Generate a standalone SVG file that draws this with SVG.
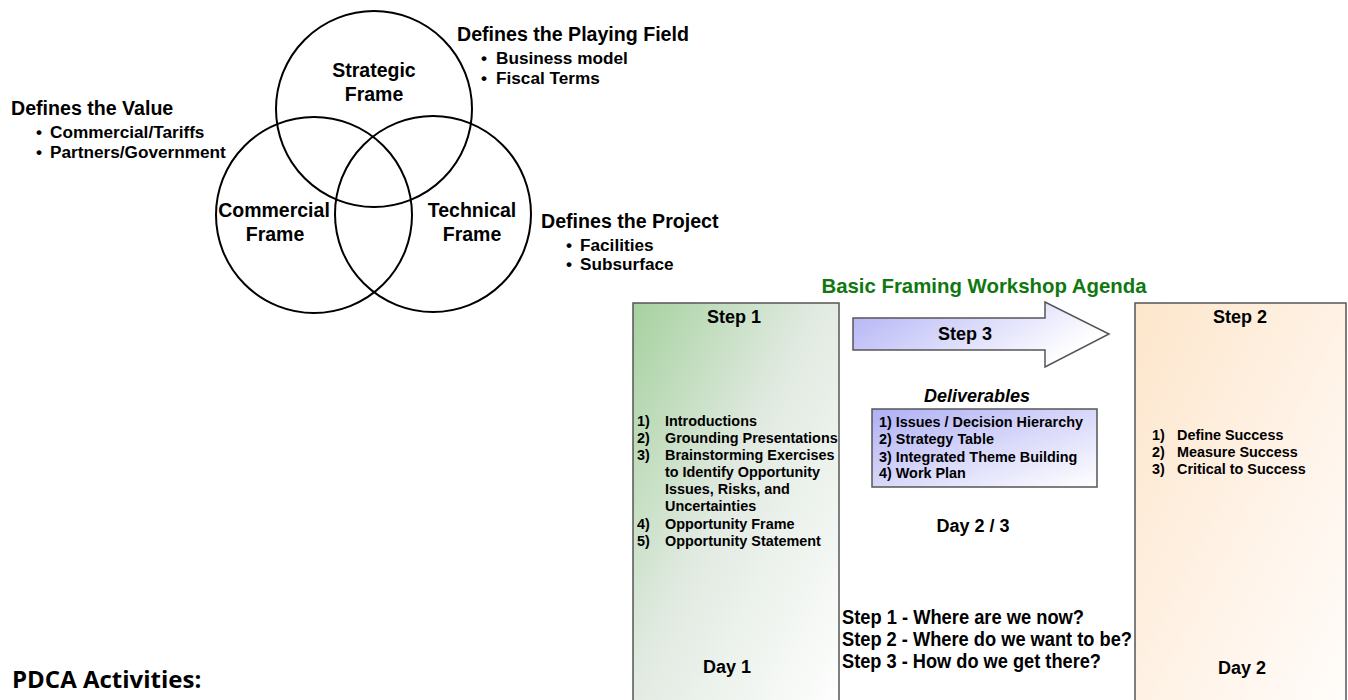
<svg xmlns="http://www.w3.org/2000/svg" width="1348" height="700" viewBox="0 0 1348 700">
  <defs>
    <linearGradient id="gStep1" x1="0" y1="0" x2="1" y2="1">
      <stop offset="0" stop-color="#a6d19f"/>
      <stop offset="0.45" stop-color="#e1eae1"/>
      <stop offset="1" stop-color="#ffffff"/>
    </linearGradient>
    <linearGradient id="gStep2" x1="0" y1="0" x2="1" y2="1">
      <stop offset="0" stop-color="#fde6cb"/>
      <stop offset="0.6" stop-color="#fff4ea"/>
      <stop offset="1" stop-color="#fffdfb"/>
    </linearGradient>
    <linearGradient id="gArrow" x1="0" y1="0" x2="1" y2="0.4">
      <stop offset="0" stop-color="#b1b1f6"/>
      <stop offset="1" stop-color="#ffffff"/>
    </linearGradient>
    <linearGradient id="gDeliv" x1="0" y1="0" x2="1" y2="1">
      <stop offset="0" stop-color="#afaff5"/>
      <stop offset="1" stop-color="#ffffff"/>
    </linearGradient>
    <style>
      text { font-family: "Liberation Sans", Arial, sans-serif; font-weight: bold; fill: #000; }
      .ring { fill: none; stroke: #000; stroke-width: 2; }
      .box { stroke: #555555; stroke-width: 1.5; }
      .head { font-size: 19.6px; }
      .lbl { font-size: 19.5px; text-anchor: middle; }
      .bul { font-size: 17.2px; }
      .item { font-size: 14.4px; }
      .step { font-size: 18px; text-anchor: middle; }
      .day { font-size: 18px; text-anchor: middle; }
      .q { font-size: 20px; }
      .title { font-size: 20.4px; fill: #117811; text-anchor: middle; }
      .pdca { font-family: "Open Sans", "Noto Sans", sans-serif; font-size: 24px; font-weight: 700; }
    </style>
  </defs>

  <rect width="1348" height="700" fill="#ffffff"/>

  <!-- Venn diagram of the three frames -->
  <g id="strategic-frame">
    <circle class="ring" cx="374" cy="109" r="98"/>
    <text class="lbl" x="374" y="77">Strategic</text>
    <text class="lbl" x="374" y="101">Frame</text>
  </g>
  <g id="commercial-frame">
    <circle class="ring" cx="314" cy="215" r="98"/>
    <text class="lbl" x="274" y="217">Commercial</text>
    <text class="lbl" x="275" y="241">Frame</text>
  </g>
  <g id="technical-frame">
    <circle class="ring" cx="433" cy="214" r="98"/>
    <text class="lbl" x="472" y="217">Technical</text>
    <text class="lbl" x="472" y="241">Frame</text>
  </g>

  <g id="note-playing-field">
    <text class="head" x="457" y="41">Defines the Playing Field</text>
    <text class="bul" x="481" y="64">•</text>
    <text class="bul" x="496" y="64">Business model</text>
    <text class="bul" x="481" y="84">•</text>
    <text class="bul" x="496" y="84">Fiscal Terms</text>
  </g>
  <g id="note-value">
    <text class="head" x="11" y="115">Defines the Value</text>
    <text class="bul" x="36" y="138">•</text>
    <text class="bul" x="50" y="138">Commercial/Tariffs</text>
    <text class="bul" x="36" y="158">•</text>
    <text class="bul" x="50" y="158">Partners/Government</text>
  </g>
  <g id="note-project">
    <text class="head" x="541" y="228">Defines the Project</text>
    <text class="bul" x="566" y="251">•</text>
    <text class="bul" x="580" y="251">Facilities</text>
    <text class="bul" x="566" y="270">•</text>
    <text class="bul" x="580" y="270">Subsurface</text>
  </g>

  <!-- Workshop agenda -->
  <text class="title" x="984" y="293">Basic Framing Workshop Agenda</text>

  <g id="step1">
    <rect class="box" x="633" y="303" width="206" height="420" fill="url(#gStep1)"/>
    <text class="step" x="734" y="323">Step 1</text>
    <text class="item" x="637" y="426">1)</text>
    <text class="item" x="665" y="426">Introductions</text>
    <text class="item" x="637" y="443">2)</text>
    <text class="item" x="665" y="443">Grounding Presentations</text>
    <text class="item" x="637" y="460">3)</text>
    <text class="item" x="665" y="460">Brainstorming Exercises</text>
    <text class="item" x="665" y="477">to Identify Opportunity</text>
    <text class="item" x="665" y="494">Issues,  Risks, and</text>
    <text class="item" x="665" y="511">Uncertainties</text>
    <text class="item" x="637" y="529">4)</text>
    <text class="item" x="665" y="529">Opportunity Frame</text>
    <text class="item" x="637" y="546">5)</text>
    <text class="item" x="665" y="546">Opportunity Statement</text>
    <text class="day" x="727" y="673">Day 1</text>
  </g>

  <g id="step2">
    <rect class="box" x="1135" y="303" width="211" height="420" fill="url(#gStep2)"/>
    <text class="step" x="1240" y="323">Step 2</text>
    <text class="item" x="1152" y="440">1)</text>
    <text class="item" x="1177" y="440">Define Success</text>
    <text class="item" x="1152" y="457">2)</text>
    <text class="item" x="1177" y="457">Measure Success</text>
    <text class="item" x="1152" y="474">3)</text>
    <text class="item" x="1177" y="474">Critical to Success</text>
    <text class="day" x="1242" y="674">Day 2</text>
  </g>

  <g id="step3">
    <polygon class="box" points="853,318 1045,318 1045,302 1109,334 1045,367 1045,350 853,350" fill="url(#gArrow)" stroke-width="1.2"/>
    <text class="step" x="965" y="340">Step 3</text>
  </g>

  <g id="deliverables">
    <text x="977" y="402" font-size="18" font-style="italic" text-anchor="middle">Deliverables</text>
    <rect class="box" x="872" y="409" width="225" height="78" fill="url(#gDeliv)"/>
    <text class="item" x="879" y="427">1) Issues / Decision Hierarchy</text>
    <text class="item" x="879" y="444">2) Strategy Table</text>
    <text class="item" x="879" y="462">3) Integrated Theme Building</text>
    <text class="item" x="879" y="478">4) Work Plan</text>
  </g>

  <g id="timing">
    <text class="day" x="973" y="532">Day 2 / 3</text>
    <text class="q" x="842" y="624" textLength="242" lengthAdjust="spacingAndGlyphs">Step 1 - Where are we now?</text>
    <text class="q" x="842" y="646" textLength="290" lengthAdjust="spacingAndGlyphs">Step 2 - Where do we want to be?</text>
    <text class="q" x="842" y="668" textLength="259" lengthAdjust="spacingAndGlyphs">Step 3 - How do we get there?</text>
  </g>

  <text class="pdca" x="12" y="688">PDCA Activities:</text>
</svg>
